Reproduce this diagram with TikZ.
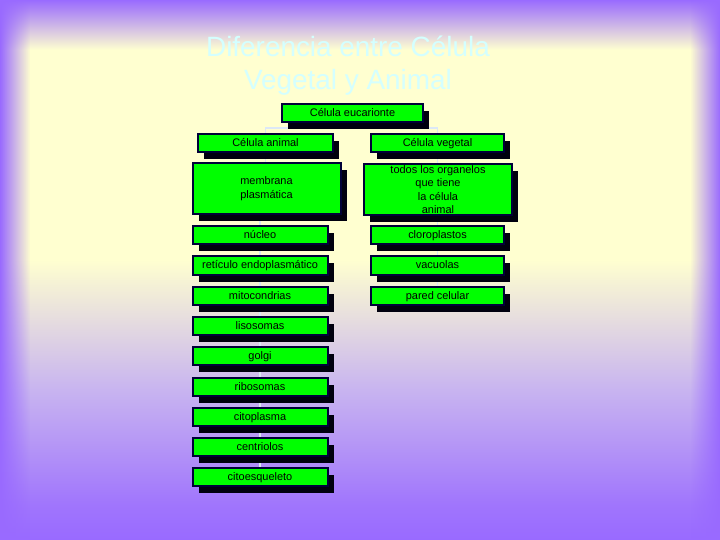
\documentclass[tikz,border=0pt]{standalone}
\usepackage{fontspec}
\setmainfont{Liberation Sans}
\usetikzlibrary{shadows,fadings}
\definecolor{bgpurple}{RGB}{153,106,255}
\definecolor{bglav}{RGB}{200,180,240}
\definecolor{bgyellow}{RGB}{255,255,208}
\definecolor{titlec}{RGB}{212,255,255}
\definecolor{boxfill}{RGB}{0,255,0}
\definecolor{boxline}{RGB}{0,0,56}
\definecolor{shadowc}{RGB}{0,0,14}
\definecolor{connc}{RGB}{220,232,246}
\pgfdeclareverticalshading{bgsh}{720bp}{color(0bp)=(bgpurple); color(35bp)=(bgpurple!85!bglav); color(150bp)=(bglav); color(280bp)=(bgyellow); color(490bp)=(bgyellow); color(540bp)=(bgpurple)}
\tikzfading[name=fadeR, left color=transparent!0, right color=transparent!100]
\tikzfading[name=fadeL, left color=transparent!100, right color=transparent!0]
\pgfdeclarelayer{back}
\pgfdeclarelayer{conn}
\pgfsetlayers{back,conn,main}
\tikzset{
  box/.style={draw=boxline, line width=2bp, fill=boxfill, inner sep=1bp,
    font=\fontsize{11}{13.4}\selectfont, align=center, text=black,
    minimum height=18bp,
    drop shadow={shadow xshift=6bp, shadow yshift=-7bp, fill=shadowc, opacity=1}},
  onebox/.style={box, text height=9bp, text depth=2bp},
  lbox/.style={onebox, minimum width=135bp},
  rbox/.style={onebox, minimum width=133bp},
  conline/.style={draw=connc, line width=1.5bp},
  titlestyle/.style={text=titlec, font=\fontsize{28}{33}\selectfont, align=center, inner sep=0pt}
}
\begin{document}
\begin{tikzpicture}[x=1bp,y=-1bp]
\useasboundingbox (0,0) rectangle (720,540);
\begin{pgfonlayer}{back}
  \node[inner sep=0pt, anchor=south west] (bg) at (0,540) {\pgfuseshading{bgsh}};
  \fill[bgpurple, path fading=fadeR] (0,0) rectangle (30,540);
  \fill[bgpurple, path fading=fadeL] (690,0) rectangle (720,540);
\end{pgfonlayer}

\node[titlestyle] (title) at (348,66) {Diferencia entre Célula\\Vegetal y Animal};

\node[onebox, minimum width=141bp] (euc) at (352.5,113) {Célula eucarionte};
\node[lbox] (animal) at (265.5,143) {Célula animal};
\node[rbox] (vegetal) at (437.5,143) {Célula vegetal};
\node[box, minimum width=148bp, minimum height=51bp] (membrana) at (266.5,188.5) {membrana\\plasmática};
\node[box, minimum width=148bp, minimum height=51bp] (todos) at (438,189.5) {todos los organelos\\que tiene\\la célula\\animal};

\node[lbox] (nucleo) at (260,235) {núcleo};
\node[lbox] (reticulo) at (260,265.5) {retículo endoplasmático};
\node[lbox] (mito) at (260,296) {mitocondrias};
\node[lbox] (liso) at (260,326) {lisosomas};
\node[lbox] (golgi) at (260,356) {golgi};
\node[lbox] (ribo) at (260,386.5) {ribosomas};
\node[lbox] (citopl) at (260,416.7) {citoplasma};
\node[lbox] (centri) at (260,446.7) {centriolos};
\node[lbox] (citoesq) at (260,476.7) {citoesqueleto};

\node[rbox] (cloro) at (437.5,235) {cloroplastos};
\node[rbox] (vacu) at (437.5,265.5) {vacuolas};
\node[rbox] (pared) at (437.5,296) {pared celular};

\begin{pgfonlayer}{conn}
  \draw[conline] (euc.south) -- ++(0,5) -| (animal.north);
  \draw[conline] (euc.south) -- ++(0,5) -| (vegetal.north);
  \draw[conline] (animal.south) -- (animal.south |- membrana.north);
  \draw[conline] (nucleo.north) -- (nucleo.north |- membrana.south);
  \foreach \a/\b in {nucleo/reticulo, reticulo/mito, mito/liso, liso/golgi, golgi/ribo, ribo/citopl, citopl/centri, centri/citoesq}
    \draw[conline] (\a.south) -- (\b.north);
  \draw[conline] (vegetal.south) -- (vegetal.south |- todos.north);
  \draw[conline] (cloro.north) -- (cloro.north |- todos.south);
  \draw[conline] (cloro.south) -- (vacu.north);
  \draw[conline] (vacu.south) -- (pared.north);
\end{pgfonlayer}
\end{tikzpicture}
\end{document}
